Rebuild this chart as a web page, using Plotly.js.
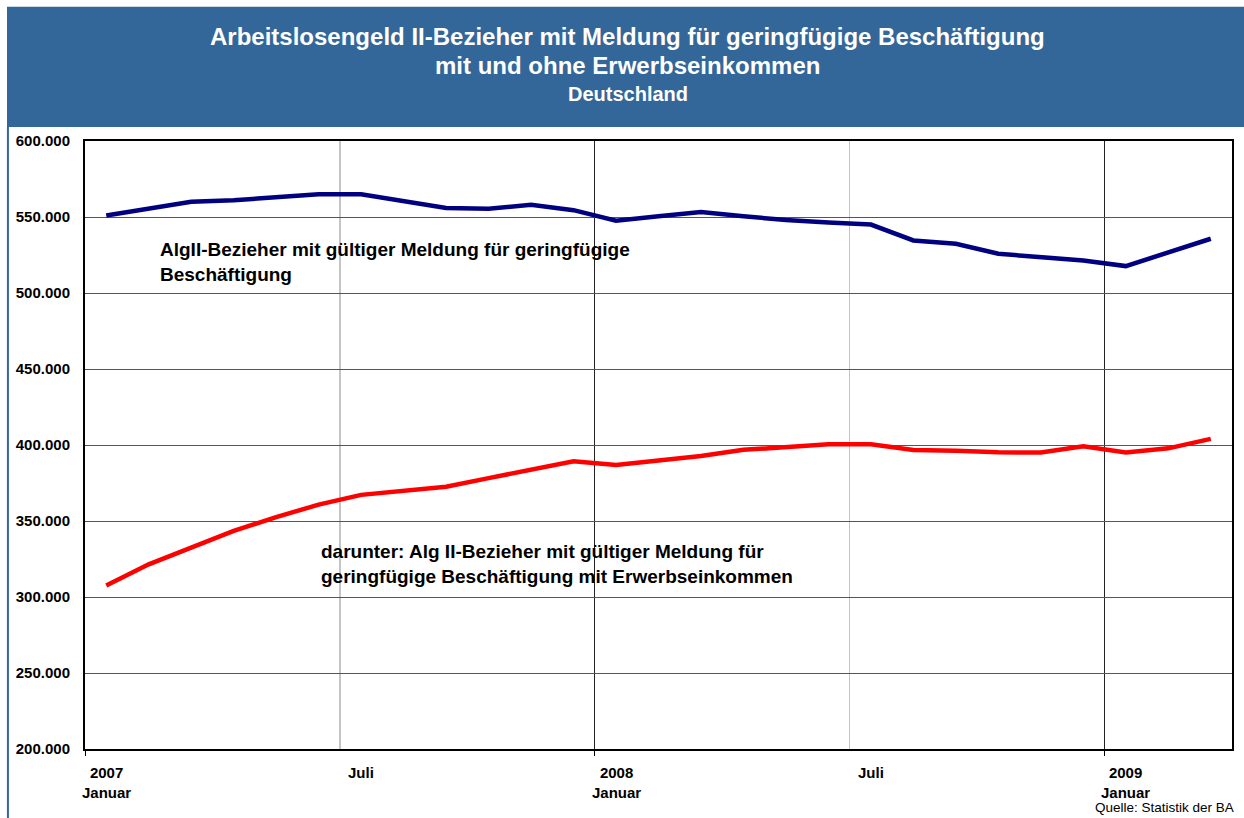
<!DOCTYPE html>
<html>
<head>
<meta charset="utf-8">
<script src="https://cdn.plot.ly/plotly-3.0.1.min.js"></script>
<style>
  html, body { margin: 0; padding: 0; background: #ffffff; }
  #chart { width: 1244px; height: 818px; }
</style>
</head>
<body>
<div id="chart"></div>
<script>
// Months (categories), January 2007 to March 2009
const months = [
  '2007-01','2007-02','2007-03','2007-04','2007-05','2007-06',
  '2007-07','2007-08','2007-09','2007-10','2007-11','2007-12',
  '2008-01','2008-02','2008-03','2008-04','2008-05','2008-06',
  '2008-07','2008-08','2008-09','2008-10','2008-11','2008-12',
  '2009-01','2009-02','2009-03'
];

// AlgII-Bezieher mit gültiger Meldung für geringfügige Beschäftigung
const bezieherGeringfuegig = [
  551000, 555500, 560000, 561000, 563000, 565000,
  565000, 560500, 556000, 555500, 558000, 554500,
  547500, 550500, 553300, 550500, 548000, 546300,
  545000, 534600, 532400, 525800, 523600, 521400,
  517700, 527000, 535700
];

// darunter: mit Erwerbseinkommen
const bezieherMitEinkommen = [
  307500, 321500, 332500, 343500, 352500, 360800,
  367200, 369800, 372600, 378200, 383500, 389300,
  386900, 389500, 392800, 396800, 398300, 400500,
  400500, 396700, 396200, 395200, 395000, 399200,
  395000, 397800, 404000
];

// Category axis labels
const tickMonths = ['2007-01', '2007-07', '2008-01', '2008-07', '2009-01'];
const tickLabels = ['2007<br>Januar', 'Juli', '2008<br>Januar', 'Juli', '2009<br>Januar'];

const titleLines = [
  'Arbeitslosengeld II-Bezieher mit Meldung für geringfügige Beschäftigung',
  'mit und ohne Erwerbseinkommen',
  'Deutschland'
];
const seriesLabels = [
  'AlgII-Bezieher mit gültiger Meldung für geringfügige<br>Beschäftigung',
  'darunter: Alg II-Bezieher mit gültiger Meldung für<br>geringfügige Beschäftigung mit Erwerbseinkommen'
];
const sourceText = 'Quelle: Statistik der BA';

const FONT = '"Liberation Sans", Arial, Helvetica, sans-serif';
const xIdx = months.map((m, i) => i);

const traces = [
  {
    x: xIdx, y: bezieherGeringfuegig, type: 'scatter', mode: 'lines',
    line: { color: '#000080', width: 4.5 }, hoverinfo: 'skip'
  },
  {
    x: xIdx, y: bezieherMitEinkommen, type: 'scatter', mode: 'lines',
    line: { color: '#ff0000', width: 4.5 }, hoverinfo: 'skip'
  }
];

const annotations = [];
// title lines
const titleY = [1.1713, 1.1236, 1.0774];
const titleSize = [24, 24, 20];
titleLines.forEach((t, i) => {
  annotations.push({
    xref: 'paper', yref: 'paper', x: 0.473, y: titleY[i],
    xanchor: 'center', yanchor: 'middle', showarrow: false,
    text: '<b>' + t + '</b>',
    font: { family: FONT, size: titleSize[i], color: '#ffffff' }
  });
});
// x tick labels at category centres
tickMonths.forEach((m, i) => {
  annotations.push({
    xref: 'x', yref: 'paper', x: months.indexOf(m), y: 0,
    xanchor: 'center', yanchor: 'top', yshift: -13, showarrow: false,
    text: '<b>' + tickLabels[i] + '</b>', align: 'center',
    font: { family: FONT, size: 15, color: '#000000' }
  });
});
// series labels
annotations.push({
  xref: 'paper', yref: 'paper', x: 0.0636, y: 0.8007,
  xanchor: 'left', yanchor: 'middle', align: 'left', showarrow: false,
  text: '<b>' + seriesLabels[0] + '</b>',
  font: { family: FONT, size: 19, color: '#000000' }
});
annotations.push({
  xref: 'paper', yref: 'paper', x: 0.2040, y: 0.3048,
  xanchor: 'left', yanchor: 'middle', align: 'left', showarrow: false,
  text: '<b>' + seriesLabels[1] + '</b>',
  font: { family: FONT, size: 19, color: '#000000' }
});
// source
annotations.push({
  xref: 'paper', yref: 'paper', x: 1.0035, y: -0.0956,
  xanchor: 'right', yanchor: 'middle', showarrow: false,
  text: sourceText,
  font: { family: FONT, size: 13.5, color: '#000000' }
});

const shapes = [
  // header band
  { type: 'rect', xref: 'paper', yref: 'paper', x0: -0.068, x1: 1.0105, y0: 1.0231, y1: 1.2208,
    fillcolor: '#336699', line: { width: 0 }, layer: 'below' },
  // left page border
  { type: 'line', xref: 'paper', yref: 'paper', x0: -0.0672, x1: -0.0672, y0: 1.0231, y1: -0.12,
    line: { color: '#336699', width: 2 } }
];

const layout = {
  width: 1244, height: 818,
  margin: { l: 85, r: 12, t: 141, b: 69, pad: 0 },
  paper_bgcolor: '#ffffff', plot_bgcolor: '#ffffff',
  separators: ',.',
  showlegend: false,
  font: { family: FONT, color: '#000000' },
  xaxis: {
    range: [-0.5, months.length - 0.5],
    tickmode: 'array',
    tickvals: [-0.5, 11.5, 23.5],
    ticktext: ['', '', ''],
    showticklabels: false,
    ticks: 'outside', ticklen: 5, tickcolor: '#000000', tickwidth: 1,
    showgrid: true, gridcolor: '#222222', gridwidth: 1,
    minor: { tickmode: 'linear', tick0: -0.5, dtick: 6, showgrid: true, gridcolor: '#c4c4c4', gridwidth: 1.3, ticks: '' },
    showline: true, linecolor: '#000000', linewidth: 2, mirror: true,
    zeroline: false, fixedrange: true
  },
  yaxis: {
    range: [200000, 600000],
    tickmode: 'linear', tick0: 200000, dtick: 50000,
    tickformat: ',.0f',
    ticks: '', ticklabelstandoff: 10,
    tickfont: { family: FONT, size: 15, color: '#000000', weight: 'bold' },
    showgrid: true, gridcolor: '#555555', gridwidth: 1,
    showline: true, linecolor: '#000000', linewidth: 2, mirror: true,
    zeroline: false, fixedrange: true
  },
  annotations: annotations,
  shapes: shapes
};

Plotly.newPlot('chart', traces, layout, { staticPlot: true, displayModeBar: false });
</script>
</body>
</html>
